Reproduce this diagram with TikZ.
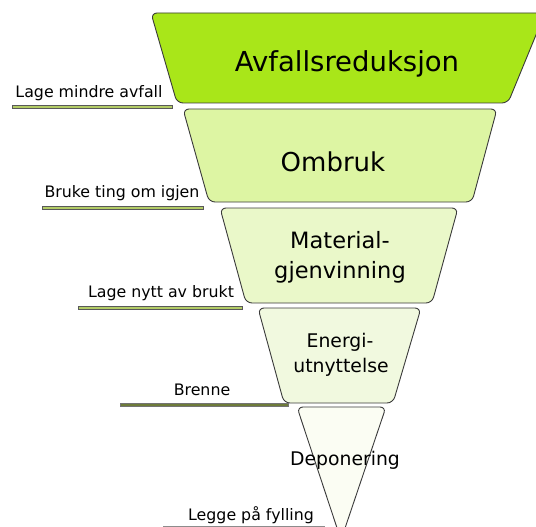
\documentclass[tikz,border=0pt]{standalone}
\usepackage{fontspec}
\setmainfont{DejaVu Sans}
\definecolor{cTop}{HTML}{A9E619}
\definecolor{cOm}{HTML}{DDF5A3}
\definecolor{cMat}{HTML}{EAF8C9}
\definecolor{cEn}{HTML}{F1F9DF}
\definecolor{cDep}{HTML}{FBFDF3}
\definecolor{cEdge}{HTML}{3A3A3A}
\definecolor{barA}{HTML}{B3CC66}
\definecolor{barB}{HTML}{6E7B3A}
\tikzset{
  level/.style={draw=cEdge, line width=0.9pt, rounded corners=6pt},
  bigtxt/.style={anchor=base, inner sep=0pt, font=\fontsize{27.5}{32}\selectfont},
  ombtxt/.style={anchor=base, inner sep=0pt, font=\fontsize{26}{30}\selectfont},
  midtxt/.style={anchor=base, inner sep=0pt, font=\fontsize{22.5}{26}\selectfont},
  smltxt/.style={anchor=base, inner sep=0pt, font=\fontsize{18.8}{22}\selectfont},
  lbl/.style={anchor=base, inner sep=0pt, font=\fontsize{15.8}{18}\selectfont},
  barlight/.style={draw=black!65, fill=barA, line width=0.5pt},
  bardark/.style={draw=black!55, fill=barB, line width=0.5pt},
}
\begin{document}
\begin{tikzpicture}[x=1pt,y=-1pt]
\useasboundingbox (0,0) rectangle (536,527);
\clip (0,0) rectangle (536,527);
% levels
\path[level, fill=cTop] (151,13) -- (545,13) -- (508,103) -- (177,103) -- cycle;
\path[level, fill=cOm] (183,109) -- (497,109) -- (472,202) -- (209,202) -- cycle;
\path[level, fill=cMat] (220,208) -- (458,208) -- (432,303) -- (246,303) -- cycle;
\path[level, fill=cEn] (258,308) -- (421,308) -- (393,403) -- (284,403) -- cycle;
\path[level, fill=cDep] (297,407) -- (386,407) -- (341,540) -- cycle;
% level texts
\node[bigtxt] (t1) at (347,72) {Avfallsreduksjon};
\node[ombtxt] (t2) at (333,171) {Ombruk};
\node[midtxt] (t3a) at (340,248) {Material-};
\node[midtxt] (t3b) at (340,278) {gjenvinning};
\node[smltxt] (t4a) at (340,347) {Energi-};
\node[smltxt] (t4b) at (341,372) {utnyttelse};
\node[smltxt] (t5) at (345,465) {Deponering};
% labels
\node[lbl] (l1) at (89,98) {Lage mindre avfall};
\node[lbl] (l2) at (122,197) {Bruke ting om igjen};
\node[lbl] (l3) at (161,297) {Lage nytt av brukt};
\node[lbl] (l4) at (202,395) {Brenne};
\node[lbl] (l5) at (251,520) {Legge på fylling};
% bars
\path[barlight] (12,105) rectangle (172,108);
\path[barlight] (42,206) rectangle (203,209);
\path[barlight] (78,306) rectangle (242,309);
\path[bardark] (120,403) rectangle (288,406);
\draw[black!45, line width=0.8pt] (163,526.5) -- (325,526.5);
\end{tikzpicture}
\end{document}
